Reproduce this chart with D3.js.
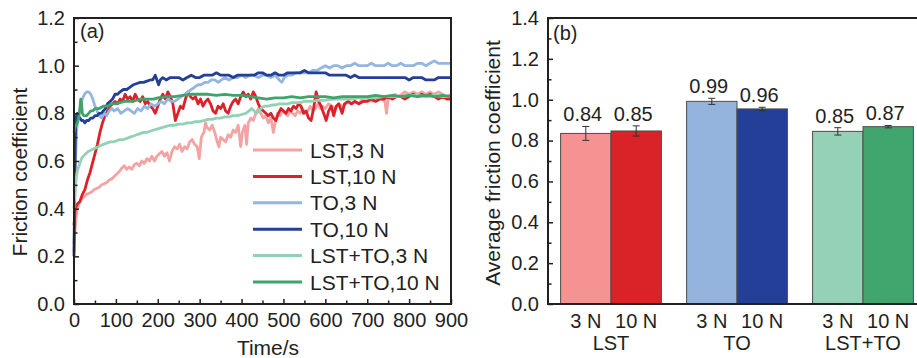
<!DOCTYPE html>
<html>
  <head>
    <meta charset="utf-8">
    <title></title>
    <script src="https://cdn.jsdelivr.net/npm/d3@7"></script>
    <style>
      body { margin: 0; background: #fff; }
      text { font-family: "Liberation Sans", Arial, sans-serif; fill: #231f20; }
    </style>
  </head>
  <body>
  <div id="chart"></div>
  <script>
    /* ------------------
      data
    ------------------ */

    // panel (a): friction coefficient vs time, [time/s, value]
    var lst3 = [[0,0.22],[2,0.30],[5,0.36],[8,0.40],[12,0.42],[18,0.44],[24,0.45],[30,0.46],[36,0.465],[42,0.47],[48,0.48],[54,0.485],[60,0.49],[66,0.50],[72,0.505],[78,0.51],[84,0.52],[90,0.525],[96,0.535],[102,0.545],[108,0.555],[114,0.57],[120,0.58],[126,0.565],[132,0.575],[138,0.565],[144,0.585],[150,0.59],[156,0.58],[162,0.60],[168,0.59],[174,0.61],[180,0.60],[186,0.62],[192,0.60],[198,0.62],[204,0.63],[210,0.64],[216,0.62],[222,0.635],[228,0.60],[234,0.64],[240,0.66],[246,0.65],[252,0.67],[258,0.64],[264,0.66],[270,0.65],[276,0.68],[282,0.69],[288,0.67],[294,0.66],[299,0.61],[304,0.70],[310,0.72],[314,0.76],[318,0.74],[324,0.73],[330,0.75],[336,0.72],[342,0.68],[346,0.66],[350,0.70],[356,0.69],[362,0.68],[368,0.71],[374,0.70],[380,0.73],[386,0.72],[392,0.75],[398,0.66],[402,0.72],[408,0.75],[412,0.67],[416,0.76],[422,0.78],[428,0.77],[434,0.80],[440,0.82],[446,0.80],[452,0.78],[458,0.79],[464,0.76],[470,0.78],[476,0.72],[480,0.76],[486,0.80],[492,0.79],[498,0.81],[504,0.80],[510,0.79],[516,0.81],[522,0.80],[528,0.79],[534,0.81],[540,0.80],[546,0.82],[552,0.80],[558,0.81],[564,0.83],[570,0.81],[576,0.82],[582,0.84],[588,0.82],[594,0.83],[600,0.82],[608,0.84],[616,0.83],[624,0.82],[632,0.84],[640,0.83],[648,0.84],[656,0.85],[664,0.84],[672,0.85],[680,0.84],[688,0.86],[696,0.85],[704,0.86],[712,0.85],[720,0.86],[728,0.87],[736,0.86],[742,0.85],[746,0.80],[750,0.86],[758,0.87],[766,0.88],[774,0.87],[782,0.88],[790,0.89],[800,0.88],[810,0.89],[820,0.88],[830,0.89],[840,0.88],[850,0.89],[860,0.88],[870,0.89],[880,0.88],[890,0.87],[900,0.88]];

    var lst10 = [[0,0.33],[3,0.40],[8,0.42],[14,0.43],[20,0.46],[26,0.48],[32,0.52],[38,0.55],[44,0.59],[50,0.63],[56,0.67],[62,0.72],[68,0.76],[74,0.79],[80,0.81],[86,0.83],[92,0.84],[98,0.85],[104,0.84],[110,0.86],[116,0.85],[122,0.88],[128,0.86],[134,0.87],[140,0.85],[146,0.88],[152,0.86],[158,0.85],[164,0.87],[170,0.84],[176,0.85],[182,0.83],[188,0.82],[194,0.80],[200,0.83],[206,0.86],[212,0.88],[218,0.86],[224,0.89],[230,0.87],[236,0.84],[242,0.77],[248,0.80],[254,0.83],[260,0.82],[266,0.86],[272,0.89],[278,0.87],[284,0.86],[290,0.87],[296,0.84],[302,0.86],[308,0.83],[314,0.85],[320,0.86],[326,0.84],[332,0.81],[338,0.80],[344,0.83],[350,0.82],[356,0.84],[362,0.81],[368,0.80],[374,0.83],[380,0.85],[386,0.86],[392,0.84],[398,0.87],[404,0.89],[410,0.87],[416,0.88],[422,0.86],[428,0.89],[434,0.87],[440,0.84],[446,0.82],[452,0.81],[458,0.80],[464,0.79],[470,0.80],[476,0.78],[482,0.77],[488,0.80],[494,0.82],[500,0.81],[506,0.80],[512,0.82],[518,0.81],[524,0.83],[530,0.82],[536,0.84],[542,0.83],[548,0.80],[554,0.81],[560,0.78],[566,0.77],[572,0.82],[578,0.89],[584,0.85],[590,0.83],[596,0.80],[602,0.77],[608,0.81],[614,0.83],[620,0.79],[626,0.83],[632,0.84],[640,0.80],[646,0.84],[654,0.85],[662,0.84],[670,0.85],[680,0.84],[690,0.85],[700,0.85],[710,0.86],[720,0.85],[730,0.86],[740,0.86],[750,0.87],[760,0.86],[770,0.87],[780,0.87],[790,0.86],[800,0.87],[810,0.88],[820,0.87],[830,0.88],[840,0.87],[850,0.88],[860,0.87],[870,0.86],[880,0.87],[890,0.86],[900,0.86]];

    var to3 = [[0,0.25],[2,0.45],[4,0.62],[6,0.72],[9,0.78],[12,0.80],[16,0.83],[20,0.86],[25,0.88],[30,0.89],[35,0.89],[40,0.88],[45,0.86],[50,0.83],[55,0.81],[60,0.79],[66,0.78],[72,0.80],[78,0.79],[84,0.81],[90,0.82],[96,0.81],[104,0.82],[112,0.80],[120,0.81],[128,0.82],[136,0.81],[144,0.80],[152,0.82],[160,0.81],[168,0.83],[176,0.82],[184,0.84],[192,0.83],[200,0.84],[208,0.85],[216,0.84],[224,0.86],[232,0.85],[240,0.85],[248,0.86],[256,0.87],[264,0.88],[272,0.89],[280,0.90],[288,0.91],[296,0.92],[304,0.92],[312,0.93],[320,0.93],[328,0.94],[336,0.94],[344,0.93],[352,0.94],[360,0.95],[370,0.94],[380,0.95],[390,0.95],[400,0.96],[410,0.95],[420,0.96],[430,0.96],[440,0.95],[450,0.96],[460,0.96],[470,0.95],[480,0.96],[490,0.94],[496,0.93],[502,0.95],[510,0.96],[520,0.96],[530,0.97],[540,0.97],[550,0.97],[560,0.97],[570,0.98],[580,0.98],[590,0.99],[600,1.00],[610,0.99],[620,1.00],[630,1.00],[640,0.99],[650,1.00],[660,1.00],[670,1.01],[680,1.00],[690,1.00],[700,1.00],[710,1.01],[720,1.00],[730,1.00],[740,1.00],[750,1.01],[760,1.00],[770,1.00],[780,1.01],[790,1.00],[800,1.00],[810,1.00],[820,1.01],[830,1.01],[840,1.00],[850,1.01],[860,1.02],[870,1.01],[880,1.01],[890,1.01],[900,1.01]];

    var to10 = [[0,0.20],[1,0.35],[2,0.55],[3,0.68],[4,0.75],[6,0.79],[8,0.80],[10,0.79],[14,0.78],[18,0.77],[22,0.77],[26,0.76],[30,0.77],[35,0.77],[40,0.78],[45,0.78],[50,0.79],[55,0.79],[60,0.80],[65,0.80],[70,0.81],[75,0.82],[80,0.84],[86,0.85],[92,0.86],[98,0.88],[104,0.88],[110,0.89],[118,0.90],[126,0.90],[134,0.91],[142,0.92],[150,0.925],[158,0.93],[166,0.93],[174,0.935],[182,0.94],[188,0.94],[194,0.96],[198,0.94],[202,0.92],[206,0.94],[212,0.95],[220,0.94],[230,0.95],[240,0.95],[250,0.95],[260,0.94],[270,0.95],[280,0.96],[290,0.95],[300,0.95],[310,0.96],[320,0.96],[330,0.96],[340,0.97],[350,0.96],[360,0.96],[370,0.96],[380,0.95],[390,0.96],[400,0.96],[410,0.96],[420,0.96],[430,0.96],[440,0.97],[450,0.97],[460,0.96],[470,0.96],[480,0.97],[490,0.96],[500,0.96],[510,0.97],[520,0.97],[530,0.97],[540,0.97],[550,0.98],[560,0.97],[570,0.97],[580,0.97],[590,0.97],[600,0.97],[610,0.96],[620,0.96],[630,0.96],[640,0.96],[650,0.96],[660,0.95],[670,0.96],[680,0.95],[690,0.95],[700,0.95],[710,0.95],[720,0.95],[730,0.95],[740,0.95],[750,0.95],[760,0.95],[770,0.95],[780,0.95],[790,0.95],[800,0.94],[810,0.95],[820,0.95],[830,0.95],[840,0.94],[850,0.94],[860,0.94],[870,0.95],[880,0.95],[890,0.95],[900,0.95]];

    var lstto3 = [[0,0.40],[2,0.47],[4,0.51],[7,0.55],[10,0.57],[14,0.59],[18,0.61],[22,0.62],[28,0.63],[34,0.64],[40,0.645],[46,0.65],[52,0.655],[58,0.66],[64,0.665],[70,0.67],[78,0.675],[86,0.68],[94,0.68],[102,0.685],[110,0.69],[118,0.69],[126,0.695],[134,0.70],[142,0.705],[150,0.71],[158,0.715],[166,0.72],[174,0.72],[182,0.725],[190,0.73],[200,0.735],[210,0.74],[220,0.745],[230,0.75],[240,0.75],[250,0.755],[260,0.755],[270,0.76],[280,0.76],[290,0.765],[300,0.765],[310,0.77],[320,0.775],[330,0.775],[340,0.78],[350,0.78],[360,0.785],[370,0.785],[380,0.79],[390,0.79],[400,0.795],[410,0.80],[418,0.81],[424,0.82],[430,0.81],[436,0.80],[442,0.81],[448,0.825],[456,0.83],[464,0.83],[472,0.835],[480,0.835],[490,0.84],[500,0.84],[510,0.84],[520,0.845],[530,0.845],[540,0.845],[550,0.85],[560,0.85],[570,0.85],[580,0.855],[590,0.855],[600,0.855],[620,0.86],[640,0.86],[660,0.86],[680,0.865],[700,0.865],[720,0.865],[740,0.87],[760,0.87],[780,0.87],[800,0.875],[820,0.875],[840,0.87],[860,0.875],[880,0.87],[900,0.87]];

    var lstto10 = [[0,0.72],[2,0.74],[5,0.75],[8,0.76],[11,0.78],[14,0.82],[16,0.86],[18,0.84],[20,0.80],[23,0.79],[26,0.79],[30,0.79],[35,0.80],[40,0.81],[45,0.81],[50,0.82],[55,0.82],[60,0.82],[70,0.83],[80,0.83],[90,0.84],[100,0.84],[110,0.845],[120,0.85],[130,0.85],[140,0.85],[150,0.855],[160,0.86],[170,0.86],[180,0.86],[190,0.86],[200,0.865],[220,0.87],[240,0.87],[260,0.875],[280,0.88],[300,0.88],[320,0.88],[340,0.875],[360,0.88],[380,0.875],[400,0.875],[420,0.87],[440,0.865],[460,0.86],[480,0.865],[500,0.865],[520,0.87],[540,0.865],[560,0.87],[580,0.87],[600,0.87],[620,0.865],[640,0.87],[660,0.87],[680,0.87],[700,0.87],[720,0.875],[740,0.87],[760,0.875],[780,0.87],[800,0.875],[820,0.87],[840,0.875],[860,0.87],[880,0.875],[900,0.87]];

    var seriesNames = ["LST,3 N", "LST,10 N", "TO,3 N", "TO,10 N", "LST+TO,3 N", "LST+TO,10 N"];
    var seriesData = [lst3, lst10, to3, to10, lstto3, lstto10];
    var colors = ["#f4a3a3", "#dc2229", "#95b6e0", "#233f97", "#92d1b4", "#3ea46c"];
    var barColors = ["#f49391", "#da2229", "#94b4de", "#233f97", "#94d1b6", "#40a66e"];

    // panel (b): average friction coefficient
    var groups = ["LST", "TO", "LST+TO"];
    var loads = ["3 N", "10 N"];
    var avgValues = [[0.835, 0.847], [0.992, 0.955], [0.845, 0.868]];
    var avgErrors = [[0.034, 0.025], [0.015, 0.008], [0.018, 0.006]];
    var avgLabels = [["0.84", "0.85"], ["0.99", "0.96"], ["0.85", "0.87"]];

    /* ------------------
      setup
    ------------------ */

    var svg = d3.select('#chart').append('svg').attr('width', 917).attr('height', 358);
    var ink = "#231f20";

    function styleAxis(g) {
      g.select('.domain').remove();
      g.selectAll('.tick line').attr('stroke', ink).attr('stroke-width', 1.5);
      g.selectAll('.tick text').style('font-size', '20px').attr('fill', ink);
    }

    /* ------------------
      panel (a)
    ------------------ */

    var xA = d3.scaleLinear().domain([0, 900]).range([74, 451]);
    var yA = d3.scaleLinear().domain([0, 1.2]).range([304, 18]);

    var gA = svg.append('g');

    var line = d3.line()
      .x(function(d) { return xA(d[0]); })
      .y(function(d) { return yA(d[1]); });

    gA.selectAll('path.series').data(seriesData).enter().append('path')
      .attr('class', 'series')
      .attr('d', line)
      .attr('fill', 'none')
      .attr('stroke', function(d, i) { return colors[i]; })
      .attr('stroke-width', 2.8)
      .attr('stroke-linejoin', 'round');

    gA.append('g').attr('transform', 'translate(0,304)')
      .call(d3.axisBottom(xA).tickValues(d3.range(50, 900, 100)).tickSizeInner(-3.5).tickSizeOuter(0).tickFormat(''))
      .call(styleAxis);
    gA.append('g').attr('transform', 'translate(0,304)')
      .call(d3.axisBottom(xA).tickValues(d3.range(0, 901, 100)).tickSizeInner(-5).tickSizeOuter(0).tickPadding(9).tickFormat(d3.format('d')))
      .call(styleAxis);
    gA.append('g').attr('transform', 'translate(74,0)')
      .call(d3.axisLeft(yA).tickValues(d3.range(0.1, 1.2, 0.2)).tickSizeInner(-3.5).tickSizeOuter(0).tickFormat(''))
      .call(styleAxis);
    gA.append('g').attr('transform', 'translate(74,0)')
      .call(d3.axisLeft(yA).tickValues(d3.range(0, 1.21, 0.2)).tickSizeInner(-5).tickSizeOuter(0).tickPadding(9).tickFormat(d3.format('.1f')))
      .call(styleAxis);

    gA.append('rect').attr('x', 74).attr('y', 18).attr('width', 377).attr('height', 286)
      .attr('fill', 'none').attr('stroke', ink).attr('stroke-width', 2);

    gA.append('text').attr('x', 80).attr('y', 38).style('font-size', '20px').text('(a)');
    gA.append('text').attr('x', 268).attr('y', 355).attr('text-anchor', 'middle').style('font-size', '21px').text('Time/s');
    gA.append('text').attr('transform', 'translate(27,172) rotate(-90)').attr('text-anchor', 'middle')
      .style('font-size', '21px').text('Friction coefficient');

    // legend
    var legend = gA.selectAll('g.legend').data(seriesNames).enter().append('g')
      .attr('class', 'legend')
      .attr('transform', function(d, i) { return 'translate(253,' + (150 + i * 26.4) + ')'; });
    legend.append('line').attr('x1', 0).attr('x2', 49).attr('y1', 0).attr('y2', 0)
      .attr('stroke', function(d, i) { return colors[i]; }).attr('stroke-width', 3);
    legend.append('text').attr('x', 57).attr('y', 7.5).style('font-size', '21px').text(function(d) { return d; });

    /* ------------------
      panel (b)
    ------------------ */

    var xB = d3.scaleBand().domain(groups).range([548, 926]).paddingInner(0.2).paddingOuter(0.1);
    var xL = d3.scaleBand().domain(loads).range([0, xB.bandwidth()]);
    var yB = d3.scaleLinear().domain([0, 1.4]).range([304, 18]);

    var gB = svg.append('g');

    var bars = [];
    groups.forEach(function(g, gi) {
      loads.forEach(function(l, li) {
        bars.push({ group: g, load: l, value: avgValues[gi][li], err: avgErrors[gi][li], label: avgLabels[gi][li], color: barColors[gi * 2 + li] });
      });
    });

    var bar = gB.selectAll('g.bar').data(bars).enter().append('g')
      .attr('class', 'bar')
      .attr('transform', function(d) { return 'translate(' + (xB(d.group) + xL(d.load)) + ',0)'; });

    bar.append('rect')
      .attr('x', 0).attr('width', xL.bandwidth())
      .attr('y', function(d) { return yB(d.value); })
      .attr('height', function(d) { return yB(0) - yB(d.value); })
      .attr('fill', function(d) { return d.color; })
      .attr('stroke', '#4d4d4d').attr('stroke-width', 1);

    var cx = xL.bandwidth() / 2;
    bar.append('path')
      .attr('d', function(d) {
        var t = yB(d.value + d.err), b = yB(d.value - d.err);
        return 'M' + cx + ',' + t + 'V' + b + 'M' + (cx - 3.5) + ',' + t + 'H' + (cx + 3.5) + 'M' + (cx - 3.5) + ',' + b + 'H' + (cx + 3.5);
      })
      .attr('stroke', '#333').attr('stroke-width', 1).attr('fill', 'none');

    bar.append('text')
      .attr('x', cx - 3).attr('y', function(d) { return yB(d.value + d.err) - 5; })
      .attr('text-anchor', 'middle').style('font-size', '20px')
      .text(function(d) { return d.label; });

    bar.append('text')
      .attr('x', cx).attr('y', 328)
      .attr('text-anchor', 'middle').style('font-size', '20px')
      .text(function(d) { return d.load; });

    gB.selectAll('text.group').data(groups).enter().append('text')
      .attr('class', 'group')
      .attr('x', function(d) { return xB(d) + xB.bandwidth() / 2; }).attr('y', 350)
      .attr('text-anchor', 'middle').style('font-size', '20px')
      .text(function(d) { return d; });

    gB.append('g').attr('transform', 'translate(548,0)')
      .call(d3.axisLeft(yB).tickValues(d3.range(0.1, 1.4, 0.2)).tickSizeInner(-3.5).tickSizeOuter(0).tickFormat(''))
      .call(styleAxis);
    gB.append('g').attr('transform', 'translate(548,0)')
      .call(d3.axisLeft(yB).tickValues(d3.range(0, 1.41, 0.2)).tickSizeInner(-5).tickSizeOuter(0).tickPadding(9).tickFormat(d3.format('.1f')))
      .call(styleAxis);

    gB.append('rect').attr('x', 548).attr('y', 18).attr('width', 378).attr('height', 286)
      .attr('fill', 'none').attr('stroke', ink).attr('stroke-width', 2);

    gB.append('text').attr('x', 553).attr('y', 40).style('font-size', '20px').text('(b)');
    gB.append('text').attr('transform', 'translate(500,163) rotate(-90)').attr('text-anchor', 'middle')
      .style('font-size', '21px').text('Average friction coefficient');
  </script>
</body>
</html>
